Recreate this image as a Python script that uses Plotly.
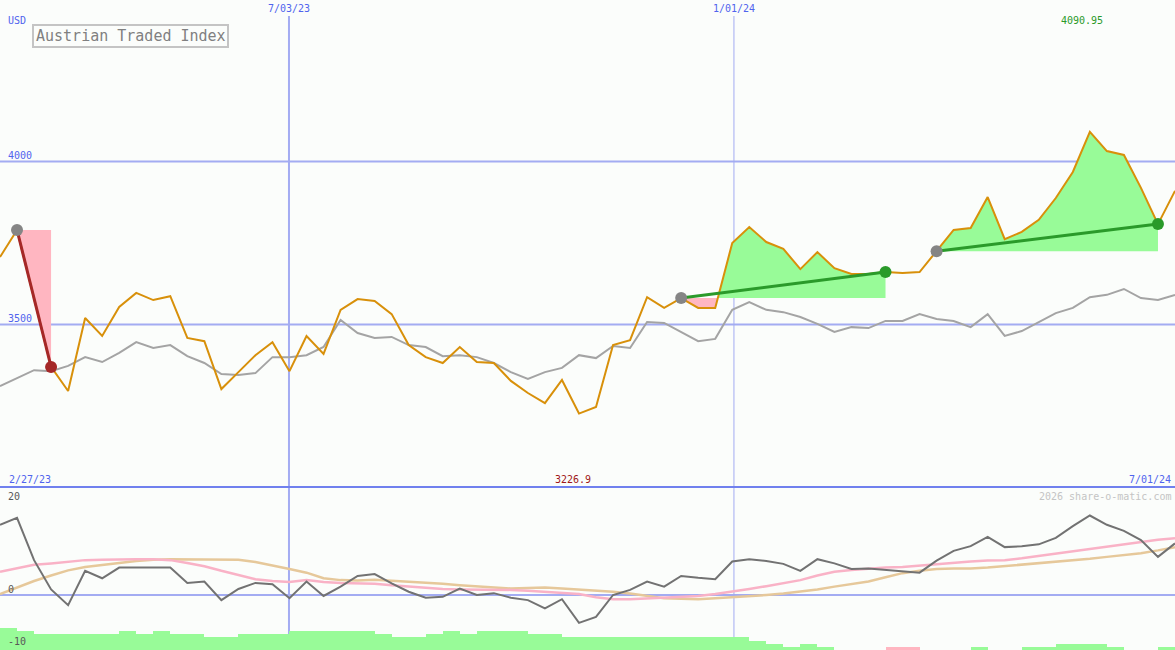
import plotly.graph_objects as go

W, H = 1175, 650

# ---------------- data ----------------
price = [3707, 3790, 3580, 3370, 3296, 3520, 3465, 3554, 3597, 3575,
         3587, 3459, 3449, 3302, 3354, 3406, 3446, 3357, 3465, 3410,
         3545, 3578, 3572, 3532, 3437, 3400, 3382, 3431, 3385, 3382,
         3327, 3290, 3259, 3330, 3226.9, 3247, 3437, 3452, 3584, 3551,
         3581, 3551, 3551, 3750, 3799, 3753, 3732, 3670, 3722, 3673,
         3655, 3655, 3661, 3658, 3661, 3725, 3790, 3796, 3891, 3762,
         3784, 3821, 3888, 3968, 4090.95, 4032, 4020, 3919, 3808, 3910]

index_ref = [3311, 3336, 3360, 3357, 3373, 3400, 3385, 3413, 3446, 3428,
             3437, 3403, 3382, 3348, 3345, 3351, 3400, 3400, 3406, 3431,
             3514, 3474, 3459, 3462, 3437, 3431, 3403, 3406, 3400, 3382,
             3354, 3333, 3354, 3367, 3406, 3397, 3434, 3428, 3508, 3505,
             3477, 3449, 3456, 3545, 3569, 3545, 3538, 3523, 3502, 3477,
             3492, 3489, 3511, 3511, 3532, 3517, 3511, 3492, 3532, 3465,
             3480, 3508, 3535, 3551, 3584, 3591, 3609, 3581, 3575, 3591]

momentum = [15.1, 16.6, 7.5, 1.2, -2.2, 5.2, 3.6, 5.9, 5.9, 5.9,
            5.9, 2.6, 2.9, -1.1, 1.3, 2.6, 2.3, -0.7, 2.9, -0.2,
            1.8, 4.1, 4.5, 2.5, 0.7, -0.6, -0.4, 1.4, 0.0, 0.4,
            -0.6, -1.1, -2.9, -0.9, -6.0, -4.7, 0.0, 1.1, 2.9, 1.8,
            4.1, 3.7, 3.4, 7.2, 7.7, 7.3, 6.7, 5.2, 7.7, 6.8,
            5.6, 5.7, 5.4, 5.2, 4.8, 7.4, 9.5, 10.5, 12.5, 10.3,
            10.5, 10.9, 12.3, 14.8, 17.1, 15.1, 13.8, 11.8, 8.2, 11.1]

ma_fast = [5.0, 5.8, 6.5, 6.8, 7.1, 7.5, 7.6, 7.7, 7.7, 7.7,
           7.5, 6.9, 6.2, 5.2, 4.3, 3.4, 3.0, 2.8, 3.2, 2.8,
           2.6, 2.5, 2.4, 2.1, 1.8, 1.5, 1.3, 1.2, 1.2, 1.1,
           1.1, 0.9, 0.7, 0.4, 0.2, -0.5, -0.9, -0.9, -0.7, -0.5,
           -0.3, -0.2, 0.2, 0.7, 1.3, 1.9, 2.6, 3.2, 4.2, 5.0,
           5.4, 5.7, 5.9, 6.0, 6.3, 6.7, 7.0, 7.2, 7.4, 7.5,
           7.9, 8.4, 8.9, 9.5, 10.0, 10.5, 11.0, 11.5, 11.9, 12.2]

ma_slow = [0.2, 1.6, 3.0, 4.2, 5.3, 6.0, 6.5, 6.9, 7.3, 7.6,
           7.7, 7.7, 7.7, 7.7, 7.6, 7.1, 6.4, 5.6, 4.8, 3.6,
           3.2, 3.1, 3.3, 3.1, 2.9, 2.6, 2.4, 2.1, 1.9, 1.6,
           1.4, 1.5, 1.6, 1.4, 1.2, 0.9, 0.7, 0.3, -0.2, -0.7,
           -0.8, -0.9, -0.7, -0.5, -0.3, 0.0, 0.3, 0.7, 1.2, 1.8,
           2.3, 2.9, 3.8, 4.7, 5.2, 5.6, 5.7, 5.7, 5.9, 6.2,
           6.5, 6.9, 7.2, 7.5, 7.8, 8.2, 8.6, 9.0, 9.6, 10.3]

signal_bars = [7, 6, 5, 5, 5, 5, 5, 6, 5, 6,
               5, 5, 4, 4, 5, 5, 5, 6, 6, 6,
               6, 6, 5, 4, 4, 5, 6, 5, 6, 6,
               6, 5, 5, 4, 4, 4, 4, 4, 4, 4,
               4, 4, 4, 4, 3, 2, 1, 2, 1, 0,
               0, 0, -1, -1, 0, 0, 0, 1, 0, 0,
               1, 1, 2, 2, 2, 1, 0, 0, 1]

date_labels = ["7/03/23", "1/01/24"]
date_positions = [16.97, 43.1]
start_label, end_label = "2/27/23", "7/01/24"
main_ticks = [4000, 3500]
lower_ticks = [20, 0, -10]
segments = [(1, 3), (40, 52), (55, 68)]   # start / end indices of trend markers
title = "Austrian Traded Index"
currency = "USD"
credit = "2026 share-o-matic.com"

# ---------------- styling ----------------
BG = "#fbfdfb"
ORANGE = "#d8900a"
GREY_LINE = "#a4a4a4"
GRID = "#a3acf2"
SEP = "#7080ee"
BLUE_TXT = "#5064ee"
GREEN_FILL = "#98fb98"
PINK_FILL = "#ffb6c1"
GREEN = "#2a9a2a"
RED = "#a52828"
MARK_GREY = "#858585"
FONT = "DejaVu Sans Mono"

n = len(price)
xs = list(range(n))
SPLIT = 163 / H
MAIN_RANGE = [3001.7, 4495.3]
LOW_RANGE = [-11.83, 23.23]
BAR_RANGE = [0, 163 / 3.14]


def px(x, y):
    return x / W, 1 - y / H


fig = go.Figure()

# ---- fills between price and level of the starting marker ----
for (a, b) in segments:
    level = price[a]
    pts = []
    for i in range(a, b):
        pts.append((i, price[i]))
        d1, d2 = price[i] - level, price[i + 1] - level
        if d1 * d2 < 0:
            t = d1 / (d1 - d2)
            pts.append((i + t, level))
    pts.append((b, price[b]))
    fx = [p[0] for p in pts]
    up = [max(p[1], level) for p in pts]
    dn = [min(p[1], level) for p in pts]
    for ys, col in ((up, GREEN_FILL), (dn, PINK_FILL)):
        fig.add_trace(go.Scatter(x=fx, y=[level] * len(fx), mode="lines",
                                 line=dict(width=0), hoverinfo="skip",
                                 showlegend=False))
        fig.add_trace(go.Scatter(x=fx, y=ys, mode="lines", line=dict(width=0),
                                 fill="tonexty", fillcolor=col,
                                 hoverinfo="skip", showlegend=False))

# ---- main lines ----
fig.add_trace(go.Scatter(x=xs, y=index_ref, mode="lines",
                         line=dict(color=GREY_LINE, width=2), showlegend=False))
fig.add_trace(go.Scatter(x=xs, y=price, mode="lines",
                         line=dict(color=ORANGE, width=2), showlegend=False))

# ---- trend lines and markers ----
for (a, b) in segments:
    col = GREEN if price[b] > price[a] else RED
    fig.add_trace(go.Scatter(x=[a, b], y=[price[a], price[b]], mode="lines",
                             line=dict(color=col, width=3), showlegend=False))
    fig.add_trace(go.Scatter(x=[a], y=[price[a]], mode="markers",
                             marker=dict(color=MARK_GREY, size=12), showlegend=False))
    fig.add_trace(go.Scatter(x=[b], y=[price[b]], mode="markers",
                             marker=dict(color=col, size=12), showlegend=False))

# ---- lower panel ----
fig.add_trace(go.Bar(x=[i + 0.5 for i in range(len(signal_bars))],
                     y=[abs(v) for v in signal_bars], width=1,
                     marker=dict(color=[GREEN_FILL if v >= 0 else PINK_FILL
                                        for v in signal_bars], line=dict(width=0)),
                     yaxis="y3", showlegend=False))
fig.add_trace(go.Scatter(x=xs, y=ma_slow, mode="lines", yaxis="y2",
                         line=dict(color="#e6c89a", width=2.5), showlegend=False))
fig.add_trace(go.Scatter(x=xs, y=ma_fast, mode="lines", yaxis="y2",
                         line=dict(color="#f9b2c6", width=2.5), showlegend=False))
fig.add_trace(go.Scatter(x=xs, y=momentum, mode="lines", yaxis="y2",
                         line=dict(color="#727272", width=2), showlegend=False))

shapes = []
for t in main_ticks:
    shapes.append(dict(type="line", xref="paper", x0=0, x1=1, yref="y", y0=t, y1=t,
                       line=dict(color=GRID, width=2), layer="below"))
shapes.append(dict(type="line", xref="paper", x0=0, x1=1, yref="y2", y0=0, y1=0,
                   line=dict(color=GRID, width=2), layer="below"))
for pos, wdt in zip(date_positions, [2, 1]):
    shapes.append(dict(type="line", xref="x", x0=pos, x1=pos, yref="paper",
                       y0=0, y1=1 - 16 / H, line=dict(color=GRID, width=wdt),
                       layer="below"))
shapes.append(dict(type="line", xref="paper", x0=0, x1=1, yref="paper",
                   y0=SPLIT, y1=SPLIT, line=dict(color=SEP, width=2), layer="above"))
bx0, by0 = px(33, 25)
bx1, by1 = px(228, 47)
shapes.append(dict(type="rect", xref="paper", yref="paper", x0=bx0, x1=bx1,
                   y0=by1, y1=by0, line=dict(color="#c4c4c4", width=2),
                   fillcolor="rgba(0,0,0,0)", layer="above"))

ann = []


def text(t, x, y, color, size=10, xanchor="left", xref="paper", yref="paper",
         xshift=0, yshift=0):
    ann.append(dict(text=t, x=x, y=y, xref=xref, yref=yref, xanchor=xanchor,
                    yanchor="middle", showarrow=False, xshift=xshift, yshift=yshift,
                    font=dict(family=FONT, size=size, color=color)))


text(currency, *px(6, 20), BLUE_TXT)
for t in main_ticks:
    text(str(t), 6 / W, t, BLUE_TXT, yref="y", yshift=6)
for t, sh in zip(lower_ticks, [6, 6, -0.5]):
    text(str(t), 6 / W, t, "#585858", yref="y2", yshift=sh)
for lab, pos in zip(date_labels, date_positions):
    text(lab, pos, 1 - 9 / H, BLUE_TXT, xanchor="center", xref="x")
imax = price.index(max(price))
imin = price.index(min(price))
text(f"{max(price):.2f}", imax, 1 - 21 / H, GREEN, xanchor="center", xref="x", xshift=-8)
text(f"{min(price):.1f}", imin, 1 - 479 / H, "#a01818", xanchor="center", xref="x", xshift=-6)
text(start_label, *px(7, 479), BLUE_TXT)
text(end_label, *px(1173, 479), BLUE_TXT, xanchor="right")
text(credit, *px(1173, 496), "#c4c4c4", xanchor="right")
text(title, (bx0 + bx1) / 2, 1 - 36 / H, "#808080", size=15, xanchor="center")

fig.update_layout(
    width=W, height=H, margin=dict(l=0, r=0, t=0, b=0),
    paper_bgcolor=BG, plot_bgcolor=BG, showlegend=False, bargap=0,
    xaxis=dict(range=[0, n - 1], domain=[0, 1], visible=False, anchor="y2",
               fixedrange=True),
    yaxis=dict(domain=[SPLIT, 1], range=MAIN_RANGE, visible=False),
    yaxis2=dict(domain=[0, SPLIT], range=LOW_RANGE, visible=False),
    yaxis3=dict(overlaying="y2", range=BAR_RANGE, visible=False),
    shapes=shapes, annotations=ann,
)

fig.write_html("out.html", config={"displayModeBar": False},
               post_script="document.body.style.margin='0';"
                           "document.body.style.background='" + BG + "';")
